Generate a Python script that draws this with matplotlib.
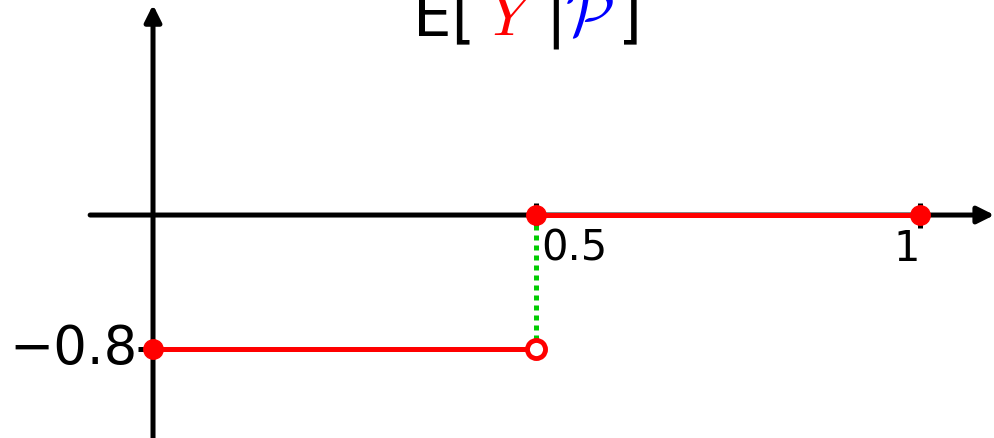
import matplotlib
matplotlib.use("Agg")
import matplotlib.pyplot as plt

plt.rcParams['mathtext.fontset'] = 'cm'
plt.rcParams['font.family'] = 'DejaVu Sans'

# step function E[Y|P] on [0, 1]
x_left = [0.0, 0.5]
y_left = [-0.8, -0.8]
x_right = [0.5, 1.0]
y_right = [0.0, 0.0]
filled_x = [0.0, 0.5, 1.0]
filled_y = [-0.8, 0.0, 0.0]
open_x = [0.5]
open_y = [-0.8]
jump_x = [0.5, 0.5]
jump_y = [0.0, -0.8]
xtick_vals = [0.5, 1.0]
xtick_labels = ['0.5', '1']
ytick_vals = [-0.8]
ytick_labels = ['\u22120.8']

fig = plt.figure(figsize=(9.94, 4.38), dpi=100)
ax = fig.add_axes([0, 0, 1, 1])
ax.set_xlim(-0.1995, 1.0965)
ax.set_ylim(-1.331, 1.2836)
ax.axis('off')

# axes with arrow heads
ax.annotate('', xy=(1.097, 0), xytext=(-0.082, 0),
            arrowprops=dict(arrowstyle='-|>,head_length=1.0,head_width=0.5',
                            lw=3.6, color='black', shrinkA=0, shrinkB=0))
ax.annotate('', xy=(0, 1.255), xytext=(0, -1.34),
            arrowprops=dict(arrowstyle='-|>,head_length=1.0,head_width=0.5',
                            lw=3.6, color='black', shrinkA=0, shrinkB=0))

# ticks
for xv in xtick_vals:
    ax.plot([xv, xv], [0.07, -0.08], color='black', lw=3.6, solid_capstyle='butt')
for yv in ytick_vals:
    ax.plot([-0.02, 0], [yv, yv], color='black', lw=3.6, solid_capstyle='butt')

ax.text(0.506, -0.075, xtick_labels[0], fontsize=30, ha='left', va='top')
ax.text(0.983, -0.075, xtick_labels[1], fontsize=30, ha='center', va='top')
ax.text(-0.02, ytick_vals[0], ytick_labels[0], fontsize=38, ha='right', va='center')

# jump
ax.plot(jump_x, jump_y, color='#00cc00', lw=3.6, linestyle=(0, (1, 1)), zorder=3)

# pieces
ax.plot(x_left, y_left, color='red', lw=3.6, zorder=4)
ax.plot(x_right, y_right, color='red', lw=3.6, zorder=4)
ax.plot(filled_x, filled_y, 'o', color='red', ms=14, zorder=5)
ax.plot(open_x, open_y, 'o', mfc='white', mec='red', mew=3.5, ms=13, zorder=5)

# title E[Y|P]
tb = 1.075
ax.text(0.339, tb, 'E[', fontsize=44, color='black', va='baseline')
ax.text(0.437, tb, r'$Y$', fontsize=46, color='red', va='baseline')
ax.text(0.512, tb, '|', fontsize=44, color='black', va='baseline')
ax.text(0.537, tb, r'$\mathcal{P}$', fontsize=46, color='blue', va='baseline')
ax.text(0.606, tb, ']', fontsize=44, color='black', va='baseline')

fig.savefig('out.png', dpi=100)
